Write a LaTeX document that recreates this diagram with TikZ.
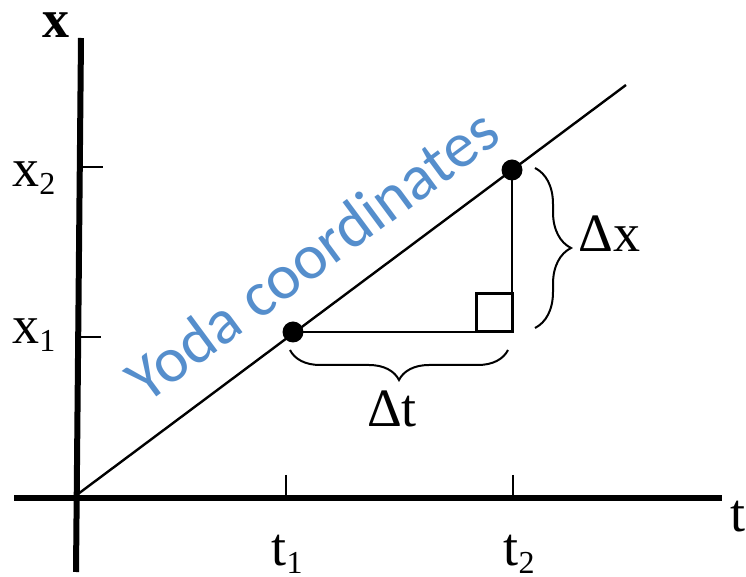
\documentclass[tikz,border=0pt]{standalone}
\usepackage{fontspec}
\setmainfont{Liberation Serif}
\newfontfamily\yodafont{Carlito}
\usetikzlibrary{decorations.pathreplacing}
\definecolor{yodablue}{RGB}{85,142,204}
\newcommand{\lab}[2]{#1\raisebox{-4pt}{\fontsize{16}{16}\selectfont #2}}

\begin{document}
\begin{tikzpicture}[x=0.5pt,y=-0.5pt,
   axis/.style={line width=3pt},
   thin/.style={line width=1.2pt},
   tick/.style={line width=1pt},
   brc/.style={decorate,decoration={brace,amplitude=#1},line width=1pt},
   dot/.style={circle,fill,inner sep=0pt,minimum size=10.5pt},
   lbl/.style={inner sep=0pt,font=\fontsize{27}{27}\selectfont}]
   \useasboundingbox (0,0) rectangle (746,577);
   %axis
   \coordinate (o) at (78,494);
   \coordinate (tl) at (14,498);
   \coordinate (tr) at (722,498);
   \coordinate (xt) at (81,38);
   \coordinate (xb) at (76,572);
   \draw[axis] (tl) -- (tr);
   \draw[axis] (xt) -- (xb);
   \node[lbl,anchor=base west,font=\fontsize{27}{27}\selectfont\bfseries] (xaxis) at (42,38) {x};
   \node[lbl,anchor=base west] (taxis) at (730,532) {t};
   %ticks
   \draw[tick] (80,167) -- (103,167);
   \draw[tick] (79,337) -- (101,337);
   \draw[tick] (286,475) -- (286,498);
   \draw[tick] (513,475) -- (513,498);
   \node[lbl,anchor=base west] (x2) at (12,187) {\lab{x}{2}};
   \node[lbl,anchor=base west] (x1) at (12,344) {\lab{x}{1}};
   \node[lbl,anchor=base] (t1) at (287,566) {\lab{t}{1}};
   \node[lbl,anchor=base] (t2) at (519,566) {\lab{t}{2}};
   %line and points
   \draw[thin] (o) -- (626,85);
   \node[dot] (p1) at (293,332) {};
   \node[dot] (p2) at (512,170) {};
   \coordinate (c) at (512,332);
   \draw[thin] (p1.center) -- (c) -- (p2.center);
   \draw[line width=1.5pt] (476,294) rectangle (c);
   %braces
   \coordinate (bt1) at (290,350);
   \coordinate (bt2) at (508,350);
   \coordinate (bx1) at (535,168);
   \coordinate (bx2) at (535,328);
   \draw[brc=15pt] (bt2) -- (bt1);
   \draw[brc=18pt] (bx1) -- (bx2);
   \node[lbl,anchor=base] (dt) at (392,427) {Δt};
   \node[lbl,anchor=base west] (dx) at (578,252) {Δx};
   %Yoda
   \node[rotate=36.5,anchor=base,inner sep=0pt,text=yodablue,font=\yodafont\fontsize{32}{32}\selectfont] (yoda) at (325,272) {Yoda coordinates};
\end{tikzpicture}
\end{document}
